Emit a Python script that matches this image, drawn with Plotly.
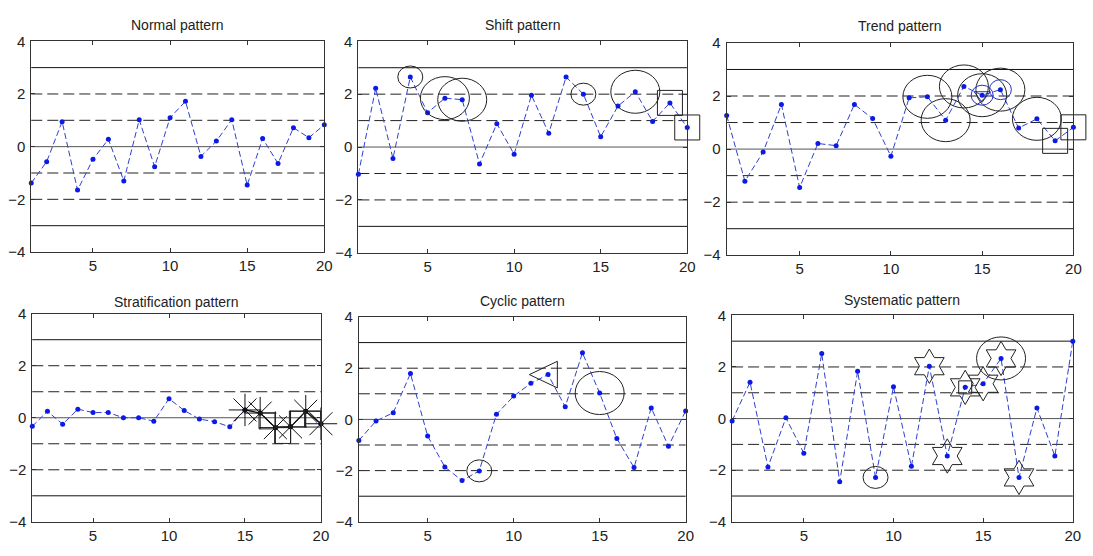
import plotly.graph_objects as go

W, H = 1093, 556

# sample index (x axis) and per-pattern observations
sample_no = list(range(1, 21))

normal_vals = [-1.38, -0.57, 0.95, -1.65, -0.48, 0.28, -1.30, 1.02, -0.76, 1.10,
               1.72, -0.37, 0.21, 1.02, -1.46, 0.31, -0.64, 0.72, 0.34, 0.83]
shift_vals = [-1.03, 2.22, -0.43, 2.65, 1.30, 1.85, 1.79, -0.64, 0.88, -0.27,
              1.96, 0.52, 2.65, 2.00, 0.39, 1.55, 2.09, 0.97, 1.67, 0.74]
trend_vals = [1.27, -1.21, -0.11, 1.68, -1.45, 0.21, 0.13, 1.68, 1.15, -0.27,
              1.93, 1.97, 1.09, 2.36, 2.03, 2.24, 0.79, 1.14, 0.31, 0.82]
strat_vals = [-0.33, 0.25, -0.25, 0.33, 0.20, 0.20, 0.00, 0.00, -0.13, 0.73,
              0.28, -0.05, -0.15, -0.35, 0.30, 0.18, -0.38, -0.35, 0.25, -0.23]
cyclic_vals = [-0.82, -0.06, 0.26, 1.79, -0.65, -1.86, -2.39, -2.01, 0.20, 0.91,
               1.41, 1.75, 0.49, 2.60, 1.03, -0.75, -1.88, 0.45, -1.05, 0.33]
system_vals = [-0.09, 1.41, -1.88, 0.03, -1.34, 2.52, -2.45, 1.83, -2.28, 1.23,
               -1.85, 2.03, -1.45, 1.21, 1.35, 2.33, -2.28, 0.41, -1.45, 3.00]

titles = ["Normal pattern", "Shift pattern", "Trend pattern",
          "Stratification pattern", "Cyclic pattern", "Systematic pattern"]

# control limits (in sigma units)
solid_limits = [-3, 3]
dashed_limits = [-2, -1, 1, 2]
center_line = [0]

x_ticks = [5, 10, 15, 20]
y_ticks = [-4, -2, 0, 2, 4]

# points flagged by the pattern rules (1-based sample numbers)
shift_flag_small = [4, 14]
shift_flag_large = [6, 7, 17]
shift_flag_box = [19, 20]
trend_flag_large = [12, 13, 14, 15, 16, 18]
trend_flag_blue = [15, 16]
trend_flag_tri = [15]
trend_flag_box = [19, 20]
strat_flag_star = [15, 16, 17, 18, 19, 20]
strat_box_x = [16.45, 17.48, 18.45, 19.45]
strat_box_y = [-0.12, -0.68, -0.05, -0.05]
cyclic_flag_small = [8]
cyclic_flag_large = [15]
cyclic_flag_tri = [12]
system_flag_small = [9]
system_flag_hex = [12, 13, 14, 15, 16, 17]
system_flag_box = [14]
system_flag_large = [16]

series = [normal_vals, shift_vals, trend_vals, strat_vals, cyclic_vals, system_vals]

# panel rectangles in pixels: (left, right, top, bottom)
panels = [
    (31.5, 326.7, 33.3, 250.7),
    (361.0, 692.3, 33.3, 251.5),
    (732.0, 1081.3, 35.0, 254.0),
    (32.5, 323.3, 314.3, 529.0),
    (361.5, 690.7, 317.7, 529.0),
    (737.5, 1080.7, 316.0, 529.0),
]
title_y = [17, 17, 18, 302, 301, 300]

FONT = "Liberation Sans, Arial, sans-serif"
INK = "#222222"
LINE_BLUE = "#2f3fd0"
DOT_BLUE = "#0b1ae6"

fig = go.Figure()


def axname(i):
    return ("x", "y") if i == 1 else (f"x{i}", f"y{i}")


for i, (vals, (l, r, t, b)) in enumerate(zip(series, panels), start=1):
    xa, ya = axname(i)
    xkey = "xaxis" if i == 1 else f"xaxis{i}"
    ykey = "yaxis" if i == 1 else f"yaxis{i}"
    fig.update_layout({
        xkey: dict(domain=[l / W, r / W], anchor=ya, range=[1, 20],
                   tickvals=x_ticks, ticks="inside", ticklen=4, tickcolor="#333",
                   showline=True, linecolor="#333", linewidth=1, mirror="ticks",
                   showgrid=False, zeroline=False,
                   tickfont=dict(family=FONT, size=15, color=INK)),
        ykey: dict(domain=[1 - b / H, 1 - t / H], anchor=xa, range=[-4, 4],
                   tickvals=y_ticks, ticks="inside", ticklen=4, tickcolor="#333",
                   showline=True, linecolor="#333", linewidth=1, mirror="ticks",
                   showgrid=False, zeroline=False, ticklabelstandoff=2,
                   tickfont=dict(family=FONT, size=15, color=INK)),
    })
    xd = "x domain" if i == 1 else f"x{i} domain"
    for lv in solid_limits:
        fig.add_shape(type="line", xref=xd, yref=ya, x0=0, x1=1, y0=lv, y1=lv,
                      line=dict(color="#111", width=1), layer="below")
    for lv in center_line:
        fig.add_shape(type="line", xref=xd, yref=ya, x0=0, x1=1, y0=lv, y1=lv,
                      line=dict(color="#555", width=1), layer="below")
    for lv in dashed_limits:
        fig.add_shape(type="line", xref=xd, yref=ya, x0=0, x1=1, y0=lv, y1=lv,
                      line=dict(color="#222", width=1, dash="11px,5px"), layer="below")

    fig.add_trace(go.Scatter(
        x=sample_no, y=vals, xaxis=xa, yaxis=ya, mode="lines+markers",
        line=dict(color=LINE_BLUE, width=1, dash="6px,3px"),
        marker=dict(color=DOT_BLUE, size=5, symbol="circle"),
        cliponaxis=False, showlegend=False, hoverinfo="skip"))

    fig.add_annotation(x=(l + r) / 2 / W, y=1 - title_y[i - 1] / H, xref="paper", yref="paper",
                       text=titles[i - 1], showarrow=False, xanchor="center", yanchor="middle",
                       font=dict(family=FONT, size=14, color=INK))


def rings(panel, idx, vals, w, h, color="#222"):
    xa, ya = axname(panel)
    for k in idx:
        fig.add_shape(type="circle", xref=xa, yref=ya, xsizemode="pixel", ysizemode="pixel",
                      xanchor=k, yanchor=vals[k - 1], x0=-w / 2, x1=w / 2, y0=-h / 2, y1=h / 2,
                      line=dict(color=color, width=1), layer="above")


def marks(panel, xs, ys, symbol, size, color="#222", width=1):
    xa, ya = axname(panel)
    fig.add_trace(go.Scatter(
        x=xs, y=ys, xaxis=xa, yaxis=ya, mode="markers",
        marker=dict(symbol=symbol, size=size, color=color,
                    line=dict(color=color, width=width)),
        cliponaxis=False, showlegend=False, hoverinfo="skip"))


def flagged(vals, idx):
    return idx, [vals[k - 1] for k in idx]


# Shift pattern
rings(2, shift_flag_small, shift_vals, 25, 22)
rings(2, shift_flag_large, shift_vals, 49, 43)
marks(2, *flagged(shift_vals, shift_flag_box), "square-open", 25)

# Trend pattern
rings(3, trend_flag_large, trend_vals, 49, 43)
rings(3, trend_flag_blue, trend_vals, 22, 20, color="#2030d0")
marks(3, *flagged(trend_vals, trend_flag_tri), "triangle-down-open", 14, color="#2030d0")
marks(3, *flagged(trend_vals, trend_flag_box), "square-open", 25)

# Stratification pattern
sx, sy = flagged(strat_vals, strat_flag_star)
fig.add_trace(go.Scatter(x=sx, y=sy, xaxis="x4", yaxis="y4", mode="lines+markers",
                         line=dict(color="#111", width=1.2),
                         marker=dict(color="#111", size=5),
                         cliponaxis=False, showlegend=False, hoverinfo="skip"))
marks(4, sx, sy, "asterisk-open", 27, color="#111")
marks(4, strat_box_x, strat_box_y, "square-open", 16)

# Cyclic pattern
rings(5, cyclic_flag_small, cyclic_vals, 25, 22)
rings(5, cyclic_flag_large, cyclic_vals, 49, 43)
for k in cyclic_flag_tri:
    fig.add_shape(type="path", xref="x5", yref="y5", xsizemode="pixel", ysizemode="pixel",
                  xanchor=k, yanchor=cyclic_vals[k - 1],
                  path="M-18.7,0 L9.3,13.3 L9.3,-13.3 Z",
                  line=dict(color="#222", width=1), layer="above")

# Systematic pattern
rings(6, system_flag_small, system_vals, 25, 22)
rings(6, system_flag_large, system_vals, 49, 43)
marks(6, *flagged(system_vals, system_flag_hex), "hexagram-open", 26)
marks(6, *flagged(system_vals, system_flag_box), "square-open", 13)

fig.update_layout(width=W, height=H, autosize=False,
                  margin=dict(l=0, r=0, t=0, b=0),
                  paper_bgcolor="white", plot_bgcolor="white",
                  showlegend=False)

fig.write_html("out.html")
